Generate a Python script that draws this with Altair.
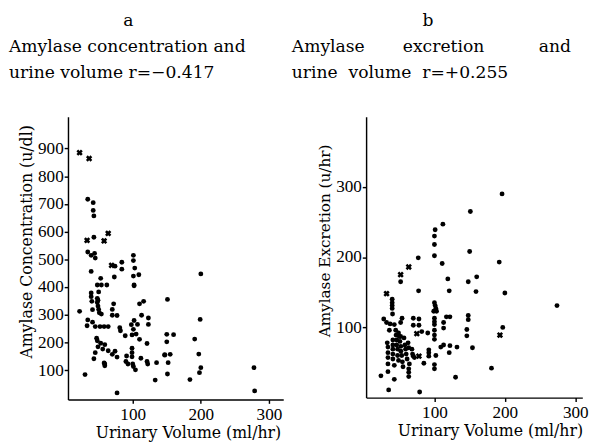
import altair as alt
import pandas as pd

# Panel a: amylase concentration (u/dl) vs urinary volume (ml/hr)
a_dot_x = [34, 42, 42, 43, 43, 34, 39, 44, 45, 74, 84, 84, 101, 103, 109, 101, 53, 73, 39, 102, 200, 101,
           48, 54, 62, 102, 39, 50, 39, 49, 40, 72, 41, 70, 22, 54, 70, 77, 34, 41, 33, 45, 52, 58, 64,
           81, 82, 89, 102, 98, 107, 101, 99, 105, 110, 113, 123, 123, 110, 116,
           48, 48, 49, 50, 51,
           47, 48, 53, 59, 49, 56, 64, 45, 74, 70, 77, 43, 58, 59, 59, 91, 99, 99, 99, 112, 121, 90, 93,
           100, 101, 104, 121, 122, 135, 147, 133, 30, 77,
           151, 199, 150, 160, 150, 191, 147, 155, 197, 152, 200, 198, 151, 184, 278, 279]
a_dot_y = [717, 705, 677, 657, 580, 527, 515, 522, 505, 476, 490, 465, 496, 469, 445, 440, 432, 437, 457, 405, 448, 515,
           408, 408, 408, 408, 379, 383, 366, 353, 349, 340, 319, 320, 313, 303, 299, 298, 282, 274, 261, 258, 258, 258, 258,
           254, 243, 225, 280, 265, 266, 248, 228, 231, 212, 299, 289, 266, 340, 349,
           360, 345, 332, 320, 308,
           216, 207, 198, 193, 185, 177, 171, 164, 169, 158, 148, 142, 127, 123, 117, 152, 149, 180, 164, 144, 197, 132, 123,
           123, 114, 102, 132, 123, 128, 155, 65, 85, 19,
           356, 284, 230, 229, 203, 213, 157, 158, 159, 128, 110, 92, 87, 67, 110, 26]
a_cross_x = [22, 36, 33, 58, 64, 69]
a_cross_y = [885, 864, 569, 567, 594, 479]

# Panel b: amylase excretion (u/hr) vs urinary volume (ml/hr)
b_dot_x = [112, 101, 100, 100, 100, 77, 196, 151, 111, 192, 150, 160, 148, 119, 52, 77.5, 121,
           40, 40, 40, 40, 40.5, 100, 101, 102, 103, 99, 117, 122, 100, 100, 100, 113, 113,
           28, 32, 37, 43, 52, 54, 70, 78, 70, 78, 36, 45, 49, 52, 82, 90.5, 100, 100, 100,
           113, 122, 132, 121, 109, 92, 92, 92, 102, 85, 100, 100, 70, 130, 24, 34, 43, 35, 79,
           159, 200, 274, 148, 148, 146, 146, 197, 154, 181,
           33, 34, 34, 34, 34, 41, 41, 41, 41, 41, 43, 45.5, 46.4, 46.4, 47.7, 47.7, 49, 50, 51, 52.3,
           52.3, 53.6, 54.5, 55.4, 56.8, 58.1, 59, 59.9, 61.2, 62.6, 63.5, 64.4, 63.5, 68, 68.9, 71.6,
           63.5, 63.5]
b_dot_y = [247, 239, 230, 218, 202, 199, 290, 265, 191, 193, 208, 172, 165, 169, 165, 152, 152,
           140, 135, 131, 127, 119, 135, 131, 127, 123, 123, 115, 115, 113, 108, 104, 107, 99,
           112, 107, 105, 104, 107, 113, 113, 112, 103, 103, 96, 96, 92, 87, 94, 92, 96, 89, 83,
           75, 74, 72, 64, 72, 68, 64, 59, 60, 49, 47, 41, 59, 29, 31, 37, 26, 11, 8,
           151, 149, 131, 117, 111, 97, 88, 100, 71, 42,
           78, 72, 64, 57, 48, 82, 75, 69, 62, 55, 46, 89, 82, 75, 69, 60, 53, 87, 80, 73,
           66, 60, 51, 44, 85, 75, 69, 62, 55, 78, 71, 48, 41, 69, 62, 57,
           36, 30]
b_cross_x = [63.5, 52, 32, 75, 78, 193]
b_cross_y = [186, 175, 148, 91, 59, 89]

SERIF = "DejaVu Serif"
NUM = "Liberation Serif"
NBSP = "\u00a0"
ZW = "\u200b"


def panel(dx, dy, cx, cy, xdom, ydom, yticks, ytitle, width, height, letter, sub_lines, title_dx,
          ytitle_size, ytitle_y, xtitle_x):
    dots = pd.DataFrame({"vol": dx, "amy": dy, "kind": "dot"})
    crosses = pd.DataFrame({"vol": cx, "amy": cy, "kind": "cross"})
    data = pd.concat([dots, crosses], ignore_index=True)
    base = alt.Chart(data).encode(
        x=alt.X("vol:Q", scale=alt.Scale(domain=xdom, nice=False, zero=False),
                axis=alt.Axis(values=[100, 200, 300], title="Urinary Volume (ml/hr)",
                              titleX=xtitle_x)),
        y=alt.Y("amy:Q", scale=alt.Scale(domain=ydom, nice=False, zero=False),
                axis=alt.Axis(values=yticks, title=ytitle, titleFontSize=ytitle_size,
                              titleY=ytitle_y, labelOverlap=False)),
    )
    d = base.transform_filter(alt.datum.kind == "dot").mark_circle(
        size=26, color="black", opacity=1)
    c = base.transform_filter(alt.datum.kind == "cross").mark_point(
        shape="cross", angle=45, filled=True, size=45, color="black", opacity=1)
    return alt.layer(d, c).properties(
        width=width, height=height,
        title=alt.TitleParams(text=letter, subtitle=sub_lines, anchor="start", frame="bounds",
                              dx=title_dx, font=SERIF, fontSize=18, fontWeight="normal",
                              lineHeight=20, color="black",
                              subtitleFont=SERIF, subtitleFontSize=18, subtitleLineHeight=27,
                              subtitleColor="black", subtitlePadding=9, offset=37))


pa = panel(a_dot_x, a_dot_y, a_cross_x, a_cross_y, [5, 321], [-5, 1015],
           [100, 200, 300, 400, 500, 600, 700, 800, 900], "Amylase Concentration (u/dl)",
           226, 297, ZW + NBSP * 21 + "a",
           ["Amylase concentration and", "urine volume r=\u22120.417"], -11, 16.5, 131, 126)
pb = panel(b_dot_x, b_dot_y, b_cross_x, b_cross_y, [3, 310], [0, 400],
           [100, 200, 300], "Amylase Excretion (u/hr)",
           227, 295, ZW + NBSP * 24 + "b",
           ["Amylase" + NBSP * 7 + "excretion" + NBSP * 10 + "and",
            "urine" + NBSP * 2 + "volume" + NBSP * 2 + "r=+0.255"], -27, 16, 130, 130)

chart = alt.hconcat(pa, pb, spacing=9).properties(
    padding={"left": 0, "top": -6, "right": 0, "bottom": 0}
).configure_view(stroke=None).configure_axis(
    grid=False, domainColor="black", tickColor="black", labelColor="black", titleColor="black",
    domainWidth=1.5, tickSize=4, tickWidth=1.5, labelPadding=1, labelOverlap=False,
    labelFont=NUM, labelFontSize=18, titleFont=SERIF, titleFontSize=16.5, titleFontWeight="normal",
    titlePadding=3
).configure_axisX(labelFontSize=18, titlePadding=2, labelPadding=3)

chart.save("out.html", embed_options={"renderer": "svg", "actions": False})
